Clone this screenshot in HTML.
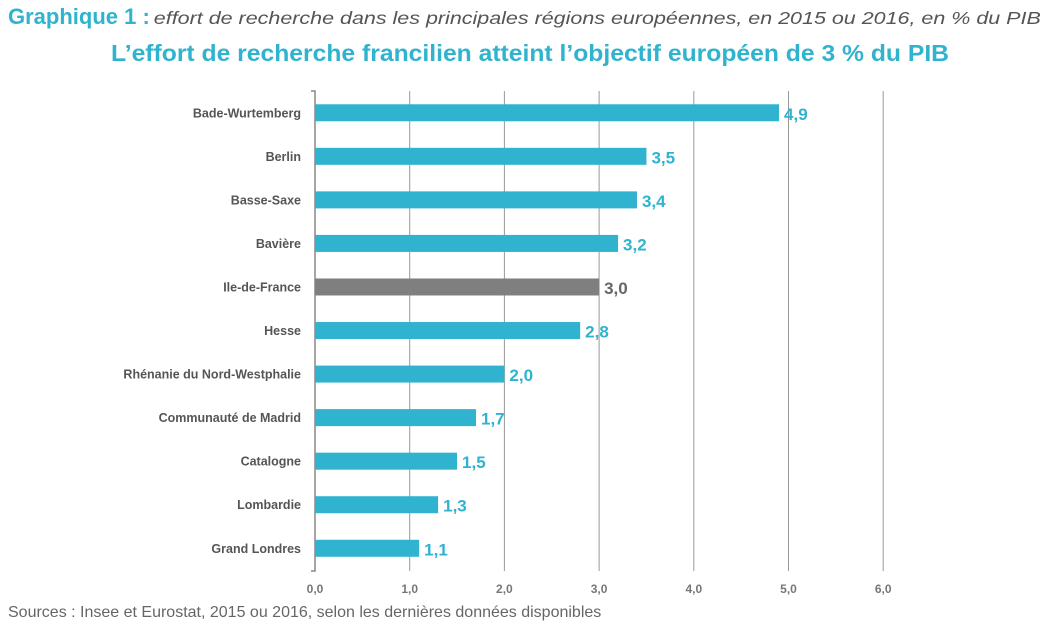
<!DOCTYPE html>
<html><head><meta charset="utf-8"><style>
body{margin:0;width:1059px;height:631px;background:#fff;overflow:hidden;font-family:"Liberation Sans",sans-serif}
</style></head><body>
<svg width="1059" height="631">
<text x="8" y="24"><tspan font-size="22" font-weight="bold" fill="#2fb3cf">Graphique 1 :</tspan><tspan font-size="17.5" font-style="italic" fill="#555" dx="4" textLength="887" lengthAdjust="spacingAndGlyphs">effort de recherche dans les principales régions européennes, en 2015 ou 2016, en % du PIB</tspan></text>
<text x="530" y="61" text-anchor="middle" font-size="23" font-weight="bold" fill="#2fb3cf" textLength="838" lengthAdjust="spacingAndGlyphs">L’effort de recherche francilien atteint l’objectif européen de 3 % du PIB</text>
<g id="grid"></g><g id="bars"></g><g id="labels"></g>
<text x="8" y="617" font-size="16" fill="#666">Sources : Insee et Eurostat, 2015 ou 2016, selon les dernières données disponibles</text>
</svg>
<script>
const categories=["Bade-Wurtemberg","Berlin","Basse-Saxe","Bavière","Ile-de-France","Hesse","Rhénanie du Nord-Westphalie","Communauté de Madrid","Catalogne","Lombardie","Grand Londres"];
const values=[4.9,3.5,3.4,3.2,3.0,2.8,2.0,1.7,1.5,1.3,1.1];
const valueLabels=["4,9","3,5","3,4","3,2","3,0","2,8","2,0","1,7","1,5","1,3","1,1"];
const ticks=[0,1,2,3,4,5,6];
const tickLabels=["0,0","1,0","2,0","3,0","4,0","5,0","6,0"];
const NS="http://www.w3.org/2000/svg";
const x0=315,ppu=94.7,top0=91,step=43.55,bh=17;
const xs=v=>x0+v*ppu, yc=i=>top0+step*(i+0.5);
function mk(t,a,p){const e=document.createElementNS(NS,t);for(const k in a)e.setAttribute(k,a[k]);p.appendChild(e);return e;}
const g=document.getElementById('grid'),b=document.getElementById('bars'),l=document.getElementById('labels');
ticks.forEach((t,i)=>{
 if(t>0){const ln=mk('line',{x1:xs(t),x2:xs(t),y1:top0,y2:571,stroke:'#999','stroke-width':1},g);
 
 }
 const tx=mk('text',{x:xs(t),y:593,'text-anchor':'middle','font-size':12,'font-weight':'bold',fill:'#777'},g);tx.textContent=tickLabels[i];
 
 
});
const ax=mk('path',{d:`M${x0-4} ${top0}H${x0}V571H${x0-4}`,stroke:'#888','stroke-width':1.5,fill:'none'},g);


categories.forEach((c,i)=>{
 const col=c==="Ile-de-France"?'#7f7f7f':'#2fb3cf';
 const r=mk('rect',{x:x0,y:yc(i)-bh/2,width:xs(values[i])-x0,height:bh,fill:col},b);
 
 
 const t=mk('text',{x:301,y:yc(i)+4.5,'text-anchor':'end','font-size':12.5,'font-weight':'bold',fill:'#555'},l);t.textContent=c;
 
 
 const v=mk('text',{x:xs(values[i])+5,y:yc(i)+7,'font-size':17,'font-weight':'bold',fill:col==='#7f7f7f'?'#666':col},l);v.textContent=valueLabels[i];
 
 
});
</script>
</body></html>
